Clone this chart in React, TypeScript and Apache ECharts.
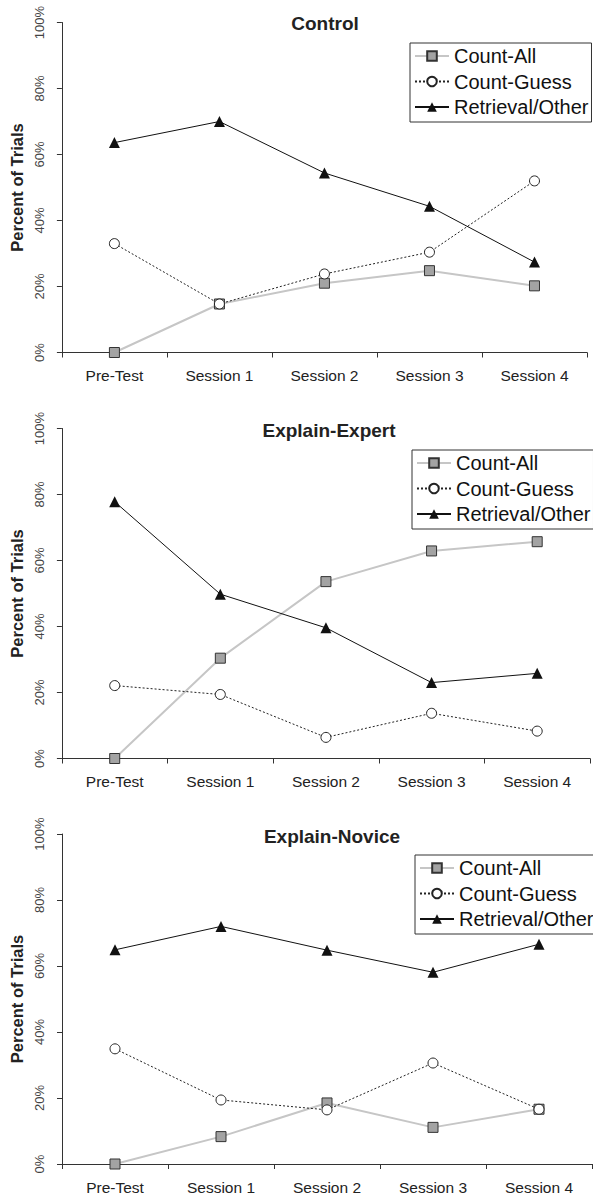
import React, { useEffect, useRef } from 'react';
import * as echarts from 'echarts';

// ---- data ----
const categories = ['Pre-Test', 'Session 1', 'Session 2', 'Session 3', 'Session 4'];
const panelTitles = ['Control', 'Explain-Expert', 'Explain-Novice'];
const seriesNames = ['Count-All', 'Count-Guess', 'Retrieval/Other'];

const controlCountAll = [0, 14.7, 21.0, 24.8, 20.2];
const controlCountGuess = [33.0, 14.7, 23.8, 30.4, 52.0];
const controlRetrieval = [63.6, 70.0, 54.4, 44.3, 27.4];

const expertCountAll = [0, 30.4, 53.6, 62.9, 65.7];
const expertCountGuess = [22.1, 19.4, 6.4, 13.7, 8.3];
const expertRetrieval = [77.8, 49.8, 39.6, 23.0, 25.8];

const noviceCountAll = [0, 8.3, 18.5, 11.1, 16.6];
const noviceCountGuess = [34.9, 19.4, 16.4, 30.6, 16.6];
const noviceRetrieval = [64.9, 72.0, 64.8, 58.1, 66.6];

const panelData = [
  [controlCountAll, controlCountGuess, controlRetrieval],
  [expertCountAll, expertCountGuess, expertRetrieval],
  [noviceCountAll, noviceCountGuess, noviceRetrieval],
];

// ---- layout ----
const FONT = '"Liberation Sans", Arial, Helvetica, sans-serif';
const grids = [
  { left: 57, top: 22.5, width: 530, height: 330 },
  { left: 59, top: 428.5, width: 531, height: 330 },
  { left: 62, top: 834, width: 530, height: 330 },
];
const titlePos = [
  { left: 325, top: 14 },
  { left: 329, top: 421 },
  { left: 332, top: 827 },
];
const legendPos = [
  { left: 410, top: 43 },
  { left: 412, top: 450 },
  { left: 415, top: 855 },
];

const seriesStyles = [
  {
    symbol: 'rect',
    symbolSize: 10,
    lineStyle: { color: '#c6c6c6', width: 2 },
    itemStyle: { color: '#a3a3a3', borderColor: '#333', borderWidth: 1 },
  },
  {
    symbol: 'circle',
    symbolSize: 10,
    lineStyle: { color: '#222', width: 1, type: [2, 2] },
    itemStyle: { color: '#fff', borderColor: '#222', borderWidth: 1 },
  },
  {
    symbol: 'triangle',
    symbolSize: 11,
    lineStyle: { color: '#111', width: 1 },
    itemStyle: { color: '#111' },
  },
];

export default function App() {
  const ref = useRef<HTMLDivElement>(null);

  useEffect(() => {
    if (!ref.current) return;
    const chart = echarts.init(ref.current, undefined, { renderer: 'svg' });

    const series: any[] = [];
    panelData.forEach((panel, i) => {
      panel.forEach((values, s) => {
        series.push({
          type: 'line',
          name: seriesNames[s],
          xAxisIndex: i,
          yAxisIndex: i,
          data: values,
          ...seriesStyles[s],
          emphasis: { disabled: true },
          silent: true,
        });
      });
    });

    const option: any = {
      animation: false,
      backgroundColor: '#fff',
      textStyle: { fontFamily: FONT },
      title: panelTitles.map((t, i) => ({
        text: t,
        left: titlePos[i].left,
        top: titlePos[i].top,
        textAlign: 'center',
        textVerticalAlign: 'top',
        padding: 0,
        textStyle: { fontSize: 19, fontWeight: 'bold', color: '#222', fontFamily: FONT },
      })),
      legend: legendPos.map((p) => ({
        data: seriesNames,
        orient: 'vertical',
        left: p.left,
        top: p.top,
        itemWidth: 34,
        itemHeight: 12,
        itemGap: 5.5,
        padding: [3, 3, 5, 4],
        borderColor: '#333',
        borderWidth: 1,
        backgroundColor: '#fff',
        selectedMode: false,
        textStyle: { fontSize: 20, color: '#111', fontFamily: FONT },
      })),
      grid: grids.map((g) => ({ ...g, containLabel: false })),
      xAxis: grids.map((_, i) => ({
        type: 'category',
        gridIndex: i,
        data: categories,
        boundaryGap: true,
        axisLine: { show: true, lineStyle: { color: '#333', width: 1 } },
        axisTick: { show: true, length: 5, alignWithLabel: false, lineStyle: { color: '#333' } },
        axisLabel: { fontSize: 15.5, color: '#222', margin: 15, fontFamily: FONT },
        splitLine: { show: false },
      })),
      yAxis: grids.map((_, i) => ({
        type: 'value',
        gridIndex: i,
        min: 0,
        max: 100,
        interval: 20,
        axisLine: { show: true, lineStyle: { color: '#333', width: 1 } },
        axisTick: { show: true, length: 5, lineStyle: { color: '#333' } },
        axisLabel: {
          rotate: 90,
          formatter: '{value}%',
          fontSize: 13,
          color: '#444',
          margin: 16,
          fontFamily: FONT,
        },
        splitLine: { show: false },
        name: 'Percent of Trials',
        nameLocation: 'middle',
        nameGap: 32,
        nameTextStyle: { fontSize: 16.5, fontWeight: 'bold', color: '#222', fontFamily: FONT },
      })),
      series,
    };

    chart.setOption(option);
    return () => chart.dispose();
  }, []);

  return (
    <div
      ref={ref}
      style={{ position: 'absolute', left: 0, top: 0, width: 593, height: 1196, background: '#fff' }}
    />
  );
}
